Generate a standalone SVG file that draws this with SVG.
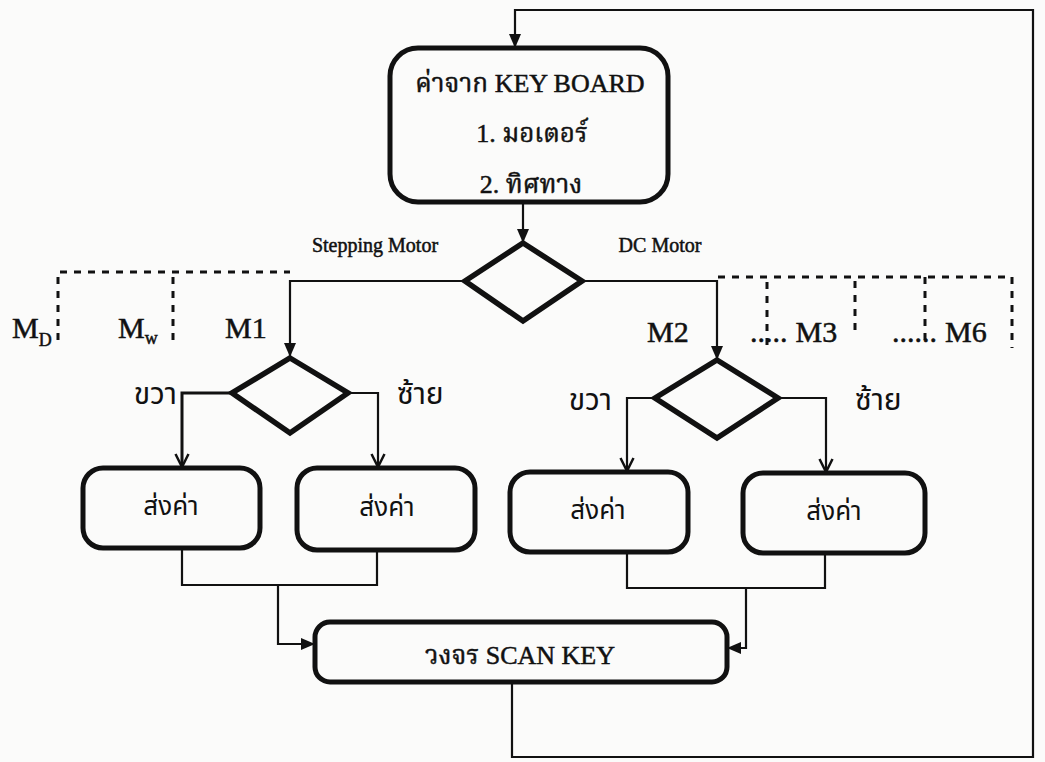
<svg xmlns="http://www.w3.org/2000/svg" width="1045" height="762" viewBox="0 0 1045 762">
<defs>
<marker id="tri" markerUnits="userSpaceOnUse" markerWidth="14" markerHeight="14" viewBox="0 0 14 14" refX="13" refY="7" orient="auto">
<path d="M0,1 L14,7 L0,13 Z" fill="#111"/>
</marker>
<marker id="vee" markerUnits="userSpaceOnUse" markerWidth="16" markerHeight="16" viewBox="0 0 16 16" refX="14" refY="8" orient="auto">
<path d="M1,1.5 L14,8 L1,14.5" fill="none" stroke="#111" stroke-width="2.5"/>
</marker>
</defs>
<style>
.bg{fill:#fbfbfa}
.box{fill:none;stroke:#111;stroke-width:5}
.dia{fill:none;stroke:#111;stroke-width:5.5;stroke-linejoin:miter}
.ln{fill:none;stroke:#111;stroke-width:2.2}
.dot{fill:none;stroke:#111;stroke-width:3;stroke-dasharray:7 7}
.t{font-family:"Liberation Serif","Noto Serif Thai","Noto Sans Thai",Garuda,Loma,serif;fill:#111;stroke:#111;stroke-width:0.5}
.th{font-family:"Noto Sans Thai","Liberation Sans",Garuda,Loma,sans-serif;fill:#111}
.s{font-size:26px}
.m{font-size:30px}
.small{font-size:20px}
</style>
<rect class="bg" x="0" y="0" width="1045" height="762"/>

<g id="connectors">
<path class="ln" d="M512,682 V757 H1033 V10 H515 V47" marker-end="url(#tri)"/>
<path class="ln" d="M523,202 V242" marker-end="url(#tri)"/>
<path class="ln" d="M465,281 H290 V356" marker-end="url(#tri)"/>
<path class="ln" d="M582,281 H717 V359" marker-end="url(#tri)"/>
<path class="ln" style="stroke-width:3" d="M232,393 H182 V467" marker-end="url(#vee)"/>
<path class="ln" d="M348,393 H378 V467" marker-end="url(#vee)"/>
<path class="ln" d="M655,398 H627 V471" marker-end="url(#vee)"/>
<path class="ln" d="M778,398 H826 V472" marker-end="url(#vee)"/>
<path class="ln" d="M182,548 V585 H377 V550"/>
<path class="ln" d="M278,585 V644 H314" marker-end="url(#tri)"/>
<path class="ln" d="M627,552 V588 H825 V553"/>
<path class="ln" d="M746,588 V648 H728" marker-end="url(#tri)"/>
<path class="dot" d="M58,340 V272 H290"/>
<path class="dot" d="M173,340 V272"/>
<path class="dot" d="M718,277 H1012 V348"/>
<path class="dot" d="M767,345 V277"/>
<path class="dot" d="M855,330 V277"/>
<path class="dot" d="M925,340 V277"/>
</g>

<g id="keyboard">
<rect class="box" x="390" y="48" width="278" height="154" rx="28"/>
<text class="t s" x="530" y="92" text-anchor="middle">ค่าจาก KEY BOARD</text>
<text class="t s" x="532" y="142" text-anchor="middle">1.  มอเตอร์</text>
<text class="t s" x="531" y="193" text-anchor="middle">2.  ทิศทาง</text>
</g>

<g id="motor-select">
<path class="dia" d="M523,243 L582,281 L523,321 L465,281 Z"/>
<text class="t small" x="375" y="252" text-anchor="middle">Stepping Motor</text>
<text class="t small" x="660" y="252" text-anchor="middle">DC Motor</text>
</g>

<g id="motor-labels">
<text class="t m" x="12" y="338">M<tspan font-size="18" dy="8">D</tspan></text>
<text class="t m" x="118" y="338">M<tspan font-size="18" dy="6">w</tspan></text>
<text class="t m" x="225" y="338">M1</text>
<text class="t m" x="647" y="342">M2</text>
<text class="t m" x="750" y="342">.....<tspan dx="8">M3</tspan></text>
<text class="t m" x="892" y="342">......<tspan dx="8">M6</tspan></text>
</g>

<g id="dir-m1">
<path class="dia" d="M290,358 L348,393 L290,433 L232,393 Z"/>
<text class="th m" x="177" y="404" text-anchor="end">ขวา</text>
<text class="th m" x="397" y="404">ซ้าย</text>
</g>

<g id="dir-m2">
<path class="dia" d="M717,360 L778,398 L717,438 L655,398 Z"/>
<text class="th m" x="612" y="410" text-anchor="end">ขวา</text>
<text class="th m" x="855" y="410">ซ้าย</text>
</g>

<g id="send1">
<rect class="box" x="83" y="468" width="177" height="80" rx="20"/>
<text class="th s" x="171" y="515" text-anchor="middle">ส่งค่า</text>
</g>
<g id="send2">
<rect class="box" x="297" y="468" width="178" height="82" rx="20"/>
<text class="th s" x="387" y="516" text-anchor="middle">ส่งค่า</text>
</g>
<g id="send3">
<rect class="box" x="510" y="472" width="178" height="80" rx="20"/>
<text class="th s" x="598" y="519" text-anchor="middle">ส่งค่า</text>
</g>
<g id="send4">
<rect class="box" x="743" y="473" width="182" height="80" rx="20"/>
<text class="th s" x="834" y="520" text-anchor="middle">ส่งค่า</text>
</g>

<g id="scan-key">
<rect class="box" x="315" y="622" width="412" height="60" rx="15"/>
<text class="t s" x="520" y="664" text-anchor="middle">วงจร SCAN KEY</text>
</g>
</svg>
